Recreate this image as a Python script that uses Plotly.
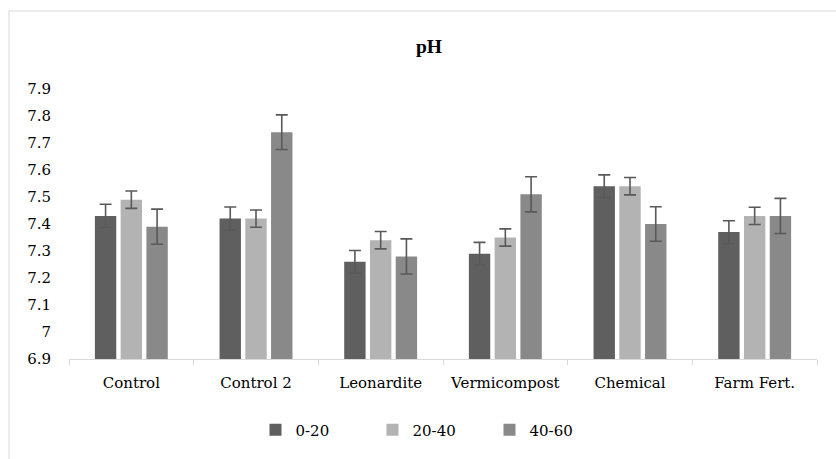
import plotly.graph_objects as go

categories = ["Control", "Control 2", "Leonardite", "Vermicompost", "Chemical", "Farm Fert."]
series_names = ["0-20", "20-40", "40-60"]
ph_0_20 = [7.43, 7.42, 7.26, 7.29, 7.54, 7.37]
ph_20_40 = [7.49, 7.42, 7.34, 7.35, 7.54, 7.43]
ph_40_60 = [7.39, 7.74, 7.28, 7.51, 7.40, 7.43]
err_0_20 = [0.043, 0.043, 0.042, 0.042, 0.042, 0.042]
err_20_40 = [0.032, 0.032, 0.032, 0.032, 0.032, 0.032]
err_40_60 = [0.065, 0.064, 0.065, 0.065, 0.064, 0.065]
y_ticks = [6.9, 7.0, 7.1, 7.2, 7.3, 7.4, 7.5, 7.6, 7.7, 7.8, 7.9]
y_tick_labels = ["6.9", "7", "7.1", "7.2", "7.3", "7.4", "7.5", "7.6", "7.7", "7.8", "7.9"]

colors = ["#5f5f5f", "#b3b3b3", "#898989"]
FONT = "DejaVu Serif"
TITLE_FONT = "Liberation Serif"
FS = 15
TXT = "black"

fig = go.Figure()
for name, vals, errs, col in zip(series_names, [ph_0_20, ph_20_40, ph_40_60],
                                  [err_0_20, err_20_40, err_40_60], colors):
    fig.add_trace(go.Bar(
        x=categories, y=vals, name=name,
        marker=dict(color=col, line=dict(width=0)),
        error_y=dict(type="data", array=errs, visible=True,
                     color="#595959", thickness=1.6, width=6),
    ))

W, H = 836, 459
L, R, T, B = 69, 19, 89, 100
pw, ph = W - L - R, H - T - B

def px_x(x):
    return (x - L) / pw

def px_y(y):
    return (H - B - y) / ph

fig.update_layout(
    width=W, height=H,
    margin=dict(l=L, r=R, t=T, b=B, pad=0),
    paper_bgcolor="white", plot_bgcolor="white",
    font=dict(family=FONT, size=FS, color=TXT),
    barmode="group", bargap=0.38, bargroupgap=0.17,
    showlegend=True,
    legend=dict(orientation="h", x=px_x(431), xanchor="center",
                y=px_y(430), yanchor="middle",
                font=dict(family=FONT, size=FS, color=TXT),
                itemwidth=30, traceorder="normal",
                entrywidth=72, entrywidthmode="pixels"),
    xaxis=dict(showline=True, linecolor="#d9d9d9", linewidth=1,
               ticks="outside", tickson="boundaries", ticklen=5,
               tickcolor="#d9d9d9", tickwidth=1, showgrid=False,
               ticklabelstandoff=10,
               tickfont=dict(family=FONT, size=FS, color=TXT)),
    yaxis=dict(range=[6.9, 7.9], tickvals=y_ticks, ticktext=y_tick_labels,
               showline=False, showgrid=False, zeroline=False,
               ticks="outside", ticklen=14, tickcolor="rgba(0,0,0,0)",
               tickfont=dict(family=FONT, size=FS, color=TXT)),
)

fig.add_annotation(text="<b>pH</b>", xref="paper", yref="paper",
                   x=px_x(429), y=px_y(46), xanchor="center", yanchor="middle",
                   showarrow=False, font=dict(family=TITLE_FONT, size=19.5, color=TXT))

fig.add_shape(type="rect", xref="paper", yref="paper",
              x0=px_x(9), x1=px_x(900), y0=px_y(520), y1=px_y(11),
              line=dict(color="#d9d9d9", width=1), fillcolor="rgba(0,0,0,0)",
              layer="below")

fig.write_html("out.html")
